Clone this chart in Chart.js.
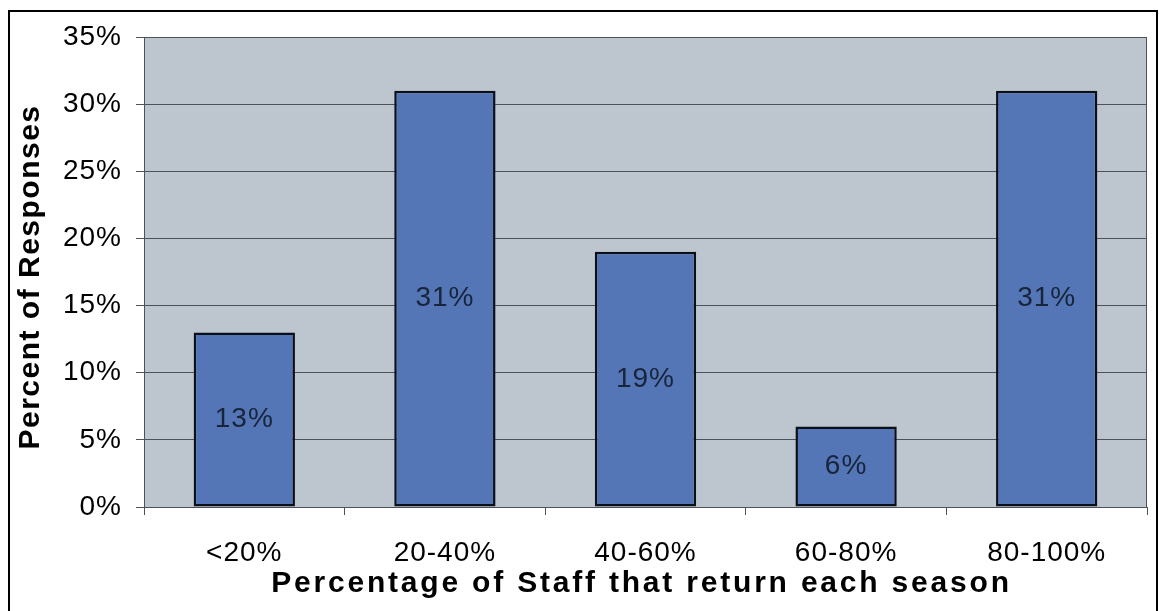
<!DOCTYPE html>
<html>
<head>
<meta charset="utf-8">
<script src="https://cdn.jsdelivr.net/npm/chart.js@4/dist/chart.umd.min.js"></script>
<style>
  html, body { margin: 0; padding: 0; background: #fff; }
  canvas { display: block; }
</style>
</head>
<body>
<canvas id="staff" width="1159" height="611"></canvas>
<script>
// categories and percentages
var categories = ['<20%', '20-40%', '40-60%', '60-80%', '80-100%'];
var responses  = [13, 31, 19, 6, 31];
var yTicks     = [0, 5, 10, 15, 20, 25, 30, 35];
var xTitle     = 'Percentage of Staff that return each season';
var yTitle     = 'Percent of Responses';

var FONT = "'Liberation Sans', Arial, sans-serif";

// gray plot area, outer frame, bar labels and axis titles
var decor = {
  id: 'decor',
  beforeDraw: function(chart){
    var c = chart.ctx, a = chart.chartArea;
    c.letterSpacing = '1px';
    c.save();
    c.fillStyle = '#bdc6cf';
    c.fillRect(a.left, a.top, a.right - a.left, a.bottom - a.top);
    c.restore();
  },
  afterDatasetsDraw: function(chart){
    var c = chart.ctx, a = chart.chartArea;
    var meta = chart.getDatasetMeta(0);
    c.save();
    // plot frame
    c.strokeStyle = '#4d5258';
    c.lineWidth = 1;
    c.strokeRect(a.left + 0.5, a.top + 0.5, a.right - a.left - 1, a.bottom - a.top);
    // value labels in the middle of each bar
    c.font = '28px ' + FONT;
    c.fillStyle = '#17243a';
    c.textAlign = 'center';
    c.textBaseline = 'middle';
    meta.data.forEach(function(bar, i){
      c.fillText(responses[i] + '%', bar.x, (bar.y + bar.base) / 2);
    });
    c.restore();
  },
  afterDraw: function(chart){
    var c = chart.ctx, a = chart.chartArea;
    c.save();
    c.strokeStyle = '#000';
    c.lineWidth = 2;
    c.strokeRect(9, 11, 1148, 700);
    c.font = 'bold 30px ' + FONT;
    c.fillStyle = '#000';
    c.textAlign = 'center';
    c.textBaseline = 'middle';
    c.letterSpacing = '2.8px';
    c.fillText(xTitle, (a.left + a.right) / 2 - 4, 584);
    c.translate(31, 277);
    c.rotate(-Math.PI / 2);
    c.letterSpacing = '1.5px';
    c.fillText(yTitle, 0, 0);
    c.restore();
  }
};

new Chart(document.getElementById('staff').getContext('2d'), {
  type: 'bar',
  data: {
    labels: categories,
    datasets: [{
      data: responses,
      backgroundColor: '#5476b6',
      borderColor: '#0a0f18',
      borderWidth: 2.5,
      borderSkipped: false,
      categoryPercentage: 1,
      barPercentage: 0.505
    }]
  },
  options: {
    responsive: false,
    animation: false,
    layout: { padding: { top: 37, right: 12, left: 0, bottom: 0 } },
    plugins: { legend: { display: false }, tooltip: { enabled: false } },
    scales: {
      x: {
        offset: true,
        grid: { offset: true, drawOnChartArea: false, color: '#4d5258', tickLength: 8 },
        border: { display: true, color: '#4d5258' },
        ticks: { font: { size: 28, family: FONT }, color: '#000', padding: 21, maxRotation: 0 },
        afterFit: function(s){ s.height = 104; }
      },
      y: {
        min: 0, max: 35,
        afterBuildTicks: function(s){ s.ticks = yTicks.map(function(v){ return { value: v }; }); },
        grid: { color: '#4d5258', lineWidth: 1, tickLength: 8 },
        border: { display: true, color: '#4d5258' },
        ticks: {
          font: { size: 28, family: FONT }, color: '#000', padding: 14,
          callback: function(v){ return v + '%'; }
        },
        afterFit: function(s){ s.width = 144; }
      }
    }
  },
  plugins: [decor]
});
</script>
</body>
</html>
